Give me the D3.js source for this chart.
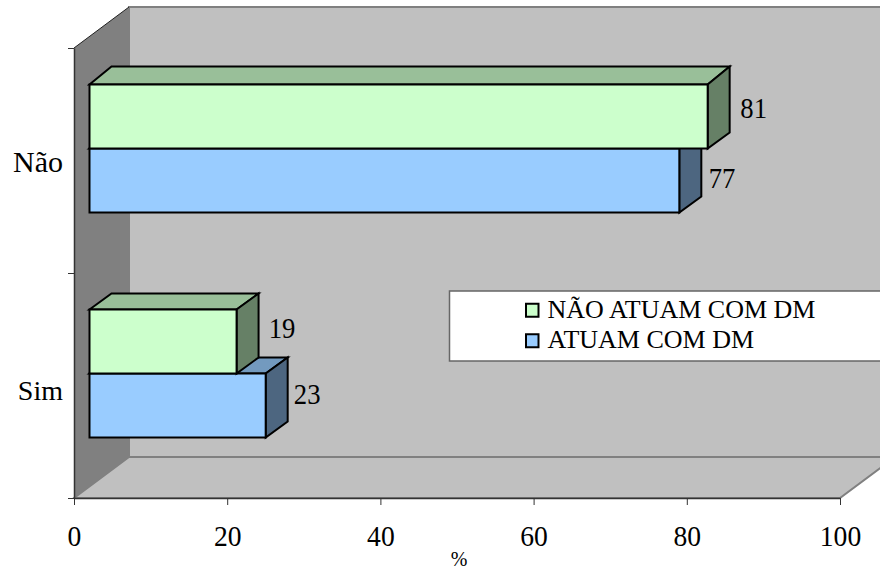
<!DOCTYPE html>
<html>
<head>
<meta charset="utf-8">
<script src="https://cdn.jsdelivr.net/npm/d3@7"></script>
<style>
  html, body { margin: 0; padding: 0; background: #fff; overflow: hidden; }
  text { font-family: "Liberation Serif", serif; fill: #000; }
</style>
</head>
<body>
<svg width="880" height="571"></svg>
<script>
// Chart values
const categories = ["Não", "Sim"];
const seriesNames = ["NÃO ATUAM COM DM", "ATUAM COM DM"];
const naoAtuam = [80.7, 19.2];
const atuam = [77, 23];
const xTicks = [0, 20, 40, 60, 80, 100];

// Layout of the fake 3D box
const frontLeft = 74, frontRight = 840, frontTop = 48, frontBottom = 498;
const depth = { x: 55, y: -41 };      // wall depth
const barDepth = { x: 22, y: -16 };   // bar depth
const barShift = { x: 15.5, y: -11.5 }; // where bars sit inside the box
const digitSqueeze = 0.92; // the digits in the original are a bit narrow

const svg = d3.select("svg");

const x = d3.scaleLinear().domain([0, 100]).range([frontLeft, frontRight]);
const y = d3.scaleBand().domain(categories).range([frontTop, frontBottom]);
const ySeries = d3.scaleBand().domain(seriesNames).range([48, 176]);

const poly = pts => pts.map(p => p.join(",")).join(" ");

// back wall
svg.append("rect")
    .attr("x", frontLeft + depth.x).attr("y", frontTop + depth.y)
    .attr("width", frontRight - frontLeft + 10)
    .attr("height", frontBottom - frontTop)
    .attr("fill", "#c0c0c0").attr("stroke", "#808080").attr("stroke-width", 2);

// floor
svg.append("polygon")
    .attr("points", poly([
        [frontLeft, frontBottom], [frontRight, frontBottom],
        [frontRight + depth.x, frontBottom + depth.y], [frontLeft + depth.x, frontBottom + depth.y]]))
    .attr("fill", "#c0c0c0").attr("stroke", "#808080").attr("stroke-width", 2);

// left wall
svg.append("polygon")
    .attr("points", poly([
        [frontLeft, frontTop], [frontLeft + depth.x, frontTop + depth.y],
        [frontLeft + depth.x, frontBottom + depth.y], [frontLeft, frontBottom]]))
    .attr("fill", "#808080");
svg.append("line")
    .attr("x1", frontLeft).attr("y1", frontTop)
    .attr("x2", frontLeft + depth.x).attr("y2", frontTop + depth.y)
    .attr("stroke", "#222").attr("stroke-width", 1);

// axes
const xAxis = svg.append("g")
    .attr("transform", `translate(0,${frontBottom})`)
    .call(d3.axisBottom(x).tickValues(xTicks).tickSize(7).tickSizeOuter(0));
xAxis.select(".domain").attr("stroke", "#333").attr("stroke-width", 1.5);
xAxis.selectAll(".tick line").attr("stroke", "#333");
xAxis.selectAll(".tick text")
    .attr("y", 48).attr("dy", 0)
    .attr("font-size", 30)
    .attr("transform", `scale(${digitSqueeze},1)`)
    .style("font-family", '"Liberation Serif", serif')
    .attr("fill", "#000");

const yAxis = svg.append("g")
    .attr("transform", `translate(${frontLeft},0)`)
    .call(d3.axisLeft(d3.scaleLinear().domain([0, 2]).range([frontBottom, frontTop])).ticks(2).tickSize(6).tickFormat("").tickSizeOuter(0));
yAxis.select(".domain").attr("stroke", "#333").attr("stroke-width", 1.5);
yAxis.selectAll(".tick line").attr("stroke", "#333");

const catNudge = { "Não": 11.5, "Sim": 14 };
svg.selectAll(".cat")
    .data(categories)
    .join("text")
    .attr("class", "cat")
    .attr("x", 63)
    .attr("y", d => y(d) + y.bandwidth() / 2 + catNudge[d])
    .attr("text-anchor", "end")
    .attr("font-size", d => d === "Não" ? 30 : 28)
    .text(d => d);

svg.append("text")
    .attr("x", 459).attr("y", 566)
    .attr("text-anchor", "middle")
    .attr("font-size", 20)
    .text("%");

// one 3D bar
function drawBar(g, value, cat, name, colors, topRise) {
    const x0 = x(0) + barShift.x, x1 = x(value) + barShift.x;
    const y0 = y(cat) + ySeries(name) + barShift.y, y1 = y0 + ySeries.bandwidth();
    const dx = barDepth.x, dy = barDepth.y;
    const bar = g.append("g")
        .attr("stroke", "#000").attr("stroke-width", 2).attr("stroke-linejoin", "miter");
    bar.append("polygon")
        .attr("points", poly([[x0, y0], [x0 + dx, y0 + topRise], [x1 + dx, y0 + topRise], [x1, y0]]))
        .attr("fill", colors.top);
    bar.append("polygon")
        .attr("points", poly([[x1, y0], [x1 + dx, y0 + topRise], [x1 + dx, y1 + dy], [x1, y1]]))
        .attr("fill", colors.side);
    bar.append("rect")
        .attr("x", x0).attr("y", y0).attr("width", x1 - x0).attr("height", y1 - y0)
        .attr("fill", colors.front);
}

const palette = {
    "NÃO ATUAM COM DM": { front: "#ccffcc", top: "#99bf99", side: "#668066" },
    "ATUAM COM DM": { front: "#99ccff", top: "#739abf", side: "#4d6680" }
};

// blue goes first, green overlaps it
const bars = svg.append("g");
categories.forEach((cat, i) => {
    drawBar(bars, atuam[i], cat, seriesNames[1], palette[seriesNames[1]], barDepth.y);
    // the top green bar rises a bit more in the original
    drawBar(bars, naoAtuam[i], cat, seriesNames[0], palette[seriesNames[0]], cat === "Não" ? -18 : barDepth.y);
});

// value labels, nudged like the original
const labelNudge = {
    "Não": { "NÃO ATUAM COM DM": [24, 7.5], "ATUAM COM DM": [20.7, 14] },
    "Sim": { "NÃO ATUAM COM DM": [23.5, 3], "ATUAM COM DM": [19.5, 5] }
};
function drawLabel(value, cat, name) {
    const nudge = labelNudge[cat][name];
    const lx = x(value) + barShift.x + barDepth.x + nudge[0];
    const ly = y(cat) + ySeries(name) + barShift.y + barDepth.y + ySeries.bandwidth() / 2 + nudge[1];
    svg.append("text")
        .attr("transform", `translate(${lx},${ly}) scale(${digitSqueeze},1)`)
        .attr("dy", "0.33em")
        .attr("text-anchor", "middle")
        .attr("font-size", 29)
        .text(d3.format(".0f")(value));
}
categories.forEach((cat, i) => {
    drawLabel(naoAtuam[i], cat, seriesNames[0]);
    drawLabel(atuam[i], cat, seriesNames[1]);
});

// legend
const legend = svg.append("g");
legend.append("rect")
    .attr("x", 449.5).attr("y", 291).attr("width", 440).attr("height", 70)
    .attr("fill", "#fff").attr("stroke", "#666").attr("stroke-width", 1.5);
const legendRow = d3.scaleBand().domain(seriesNames).range([295, 356]);
seriesNames.forEach(name => {
    const cy = legendRow(name) + legendRow.bandwidth() / 2;
    legend.append("rect")
        .attr("x", 526).attr("y", cy - 6.5).attr("width", 12.5).attr("height", 13)
        .attr("fill", palette[name].front).attr("stroke", "#000").attr("stroke-width", 2);
    legend.append("text")
        .attr("x", 547.5).attr("y", cy + 7.5)
        .attr("font-size", 26)
        .text(name);
});
</script>
</body>
</html>
